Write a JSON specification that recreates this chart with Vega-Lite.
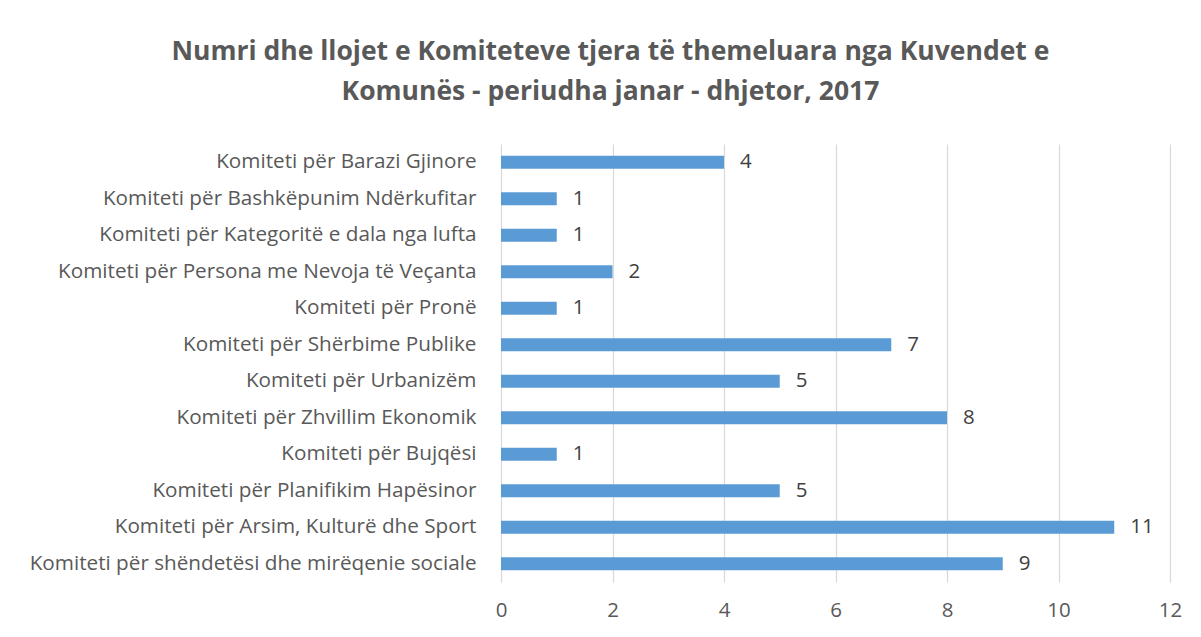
{
  "$schema": "https://vega.github.io/schema/vega-lite/v6.json",
  "width": 669,
  "height": 438,
  "padding": {"left": 29, "top": 38, "right": 30, "bottom": 5},
  "background": "white",
  "title": {
    "text": ["Numri dhe llojet e Komiteteve tjera të themeluara nga Kuvendet e", "Komunës - periudha janar - dhjetor, 2017"],
    "font": "Open Sans",
    "fontSize": 26.5,
    "fontWeight": "bold",
    "color": "#595959",
    "lineHeight": 40,
    "anchor": "middle",
    "frame": "bounds",
    "offset": 39,
    "dx": 5
  },
  "data": {
    "values": [
      {"komiteti": "Komiteti për Barazi Gjinore", "numri": 4},
      {"komiteti": "Komiteti për Bashkëpunim Ndërkufitar", "numri": 1},
      {"komiteti": "Komiteti për Kategoritë e dala nga lufta", "numri": 1},
      {"komiteti": "Komiteti për Persona me Nevoja të Veçanta", "numri": 2},
      {"komiteti": "Komiteti për Pronë", "numri": 1},
      {"komiteti": "Komiteti për Shërbime Publike", "numri": 7},
      {"komiteti": "Komiteti për Urbanizëm", "numri": 5},
      {"komiteti": "Komiteti për Zhvillim Ekonomik", "numri": 8},
      {"komiteti": "Komiteti për Bujqësi", "numri": 1},
      {"komiteti": "Komiteti për Planifikim Hapësinor", "numri": 5},
      {"komiteti": "Komiteti për Arsim, Kulturë dhe Sport", "numri": 11},
      {"komiteti": "Komiteti për shëndetësi dhe mirëqenie sociale", "numri": 9}
    ]
  },
  "encoding": {
    "y": {
      "field": "komiteti",
      "type": "nominal",
      "sort": null,
      "title": null,
      "scale": {"paddingInner": 0.64, "paddingOuter": 0.32},
      "axis": {
        "domain": false,
        "ticks": false,
        "labelPadding": 25,
        "labelFont": "Open Sans",
        "labelFontSize": 20.7,
        "labelColor": "#595959",
        "labelLimit": 700,
        "grid": false
      }
    },
    "x": {
      "field": "numri",
      "type": "quantitative",
      "title": null,
      "scale": {"domain": [0, 12], "nice": false},
      "axis": {
        "values": [0, 2, 4, 6, 8, 10, 12],
        "domain": false,
        "ticks": false,
        "grid": true,
        "gridColor": "#D9D9D9",
        "gridWidth": 1.2,
        "labelFlush": false,
        "labelPadding": 18,
        "labelFont": "Open Sans",
        "labelFontSize": 20.5,
        "labelColor": "#595959"
      }
    }
  },
  "layer": [
    {"mark": {"type": "bar", "color": "#5B9BD5"}},
    {
      "mark": {"type": "text", "align": "left", "baseline": "middle", "dx": 16, "font": "Open Sans", "fontSize": 20.5, "color": "#404040"},
      "encoding": {"text": {"field": "numri", "type": "quantitative"}}
    }
  ],
  "config": {"view": {"stroke": null}}
}
